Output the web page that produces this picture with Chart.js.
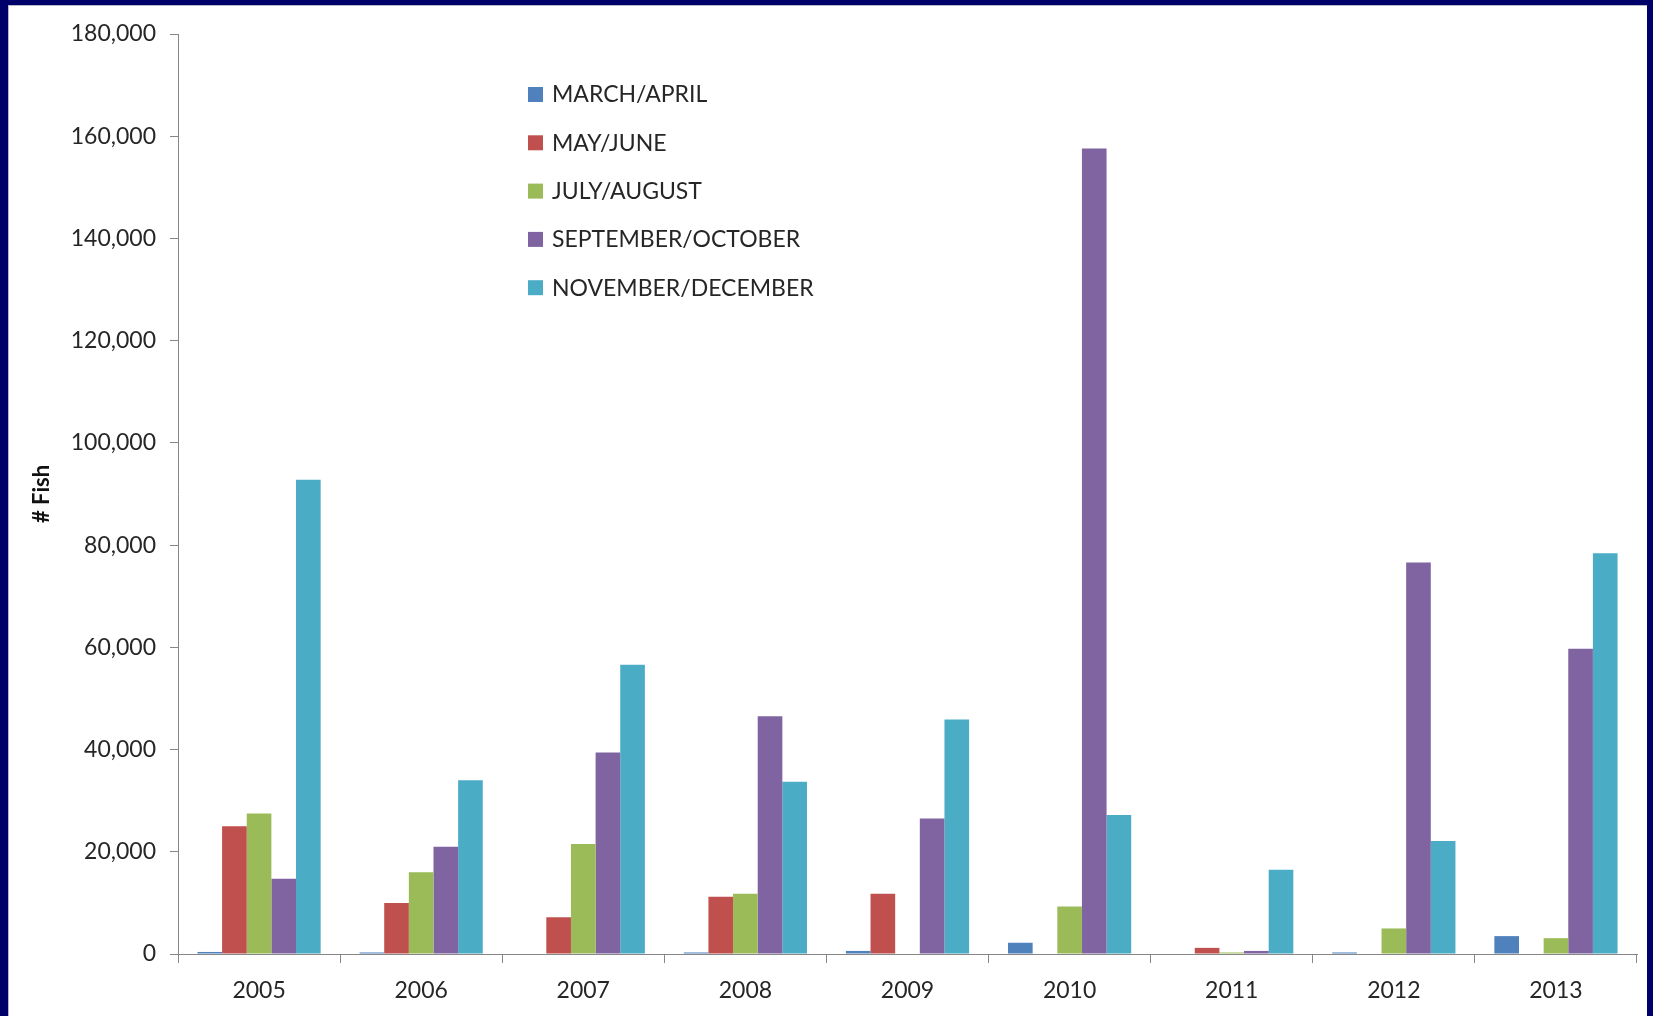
<!DOCTYPE html>
<html>
<head>
<meta charset="utf-8">
<title># Fish by period</title>
<script src="https://cdn.jsdelivr.net/npm/chart.js@4.4.1/dist/chart.umd.min.js"></script>
<style>
    html, body { margin: 0; padding: 0; }
    body { width: 1653px; height: 1016px; background: #00006b; overflow: hidden; position: relative; }
    #wrap {
        position: absolute; left: 8px; top: 5px; width: 1639px; height: 1011px;
        background: #fff; box-sizing: border-box; border-left: 1px solid #b8b8c8; border-top: 1px solid #b8b8c8;
    }
</style>
</head>
<body>
<div id="wrap"><canvas id="fishChart"></canvas></div>
<script>
const years = ['2005', '2006', '2007', '2008', '2009', '2010', '2011', '2012', '2013'];
const seriesNames = ['MARCH/APRIL', 'MAY/JUNE', 'JULY/AUGUST', 'SEPTEMBER/OCTOBER', 'NOVEMBER/DECEMBER'];
const seriesColors = ['#4f81bd', '#c0504d', '#9bbb59', '#8064a2', '#4bacc6'];

const marApr = [400, 300, 0, 300, 600, 2200, 0, 300, 3500];
const mayJun = [25000, 10000, 7200, 11200, 11800, 0, 1200, 0, 0];
const julAug = [27500, 16000, 21500, 11800, 0, 9300, 300, 5000, 3100];
const sepOct = [14700, 21000, 39400, 46500, 26500, 157600, 600, 76600, 59700];
const novDec = [92800, 34000, 56600, 33700, 45900, 27200, 16500, 22100, 78400];

const yTicks = [0, 20000, 40000, 60000, 80000, 100000, 120000, 140000, 160000, 180000];

const seriesValues = [marApr, mayJun, julAug, sepOct, novDec];
const fontFamily = 'Lato, "Open Sans", sans-serif';
const textColor = '#262626';
const axisColor = '#868686';

// legend stacked in the upper part of the plot, drawn on the canvas
const insideLegend = {
    id: 'insideLegend',
    afterDraw(chart) {
        const ctx = chart.ctx;
        ctx.save();
        ctx.font = '23px ' + fontFamily;
        ctx.textBaseline = 'middle';
        chart.data.datasets.forEach((ds, i) => {
            const y = 88 + i * 48.3;
            ctx.fillStyle = ds.backgroundColor;
            ctx.fillRect(519, y - 7, 15, 15);
            ctx.fillStyle = textColor;
            ctx.fillText(ds.label, 543, y + 1);
        });
        ctx.restore();
    }
};

const ctx = document.getElementById('fishChart');
new Chart(ctx, {
    type: 'bar',
    data: {
        labels: years,
        datasets: seriesNames.map((name, i) => ({
            label: name,
            data: seriesValues[i],
            backgroundColor: seriesColors[i],
            borderWidth: 0,
            categoryPercentage: 0.76,
            barPercentage: 1.0
        }))
    },
    options: {
        responsive: true,
        maintainAspectRatio: false,
        animation: false,
        layout: { padding: { top: 28, right: 10, left: 0, bottom: 0 } },
        plugins: {
            legend: { display: false },
            tooltip: { enabled: false }
        },
        scales: {
            x: {
                grid: {
                    display: true,
                    offset: true,
                    drawOnChartArea: false,
                    drawTicks: true,
                    tickLength: 9,
                    color: axisColor
                },
                border: { color: axisColor, width: 1 },
                ticks: {
                    color: textColor,
                    font: { family: fontFamily, size: 23 },
                    padding: 14,
                    maxRotation: 0
                },
                afterFit(scale) { scale.height = 62; }
            },
            y: {
                min: 0,
                max: 180000,
                afterBuildTicks(scale) { scale.ticks = yTicks.map(v => ({ value: v })); },
                grid: {
                    display: true,
                    drawOnChartArea: false,
                    drawTicks: true,
                    tickLength: 8,
                    color: axisColor
                },
                border: { color: axisColor, width: 1 },
                ticks: {
                    color: textColor,
                    font: { family: fontFamily, size: 23 },
                    padding: 14,
                    callback: v => v.toLocaleString('en-US')
                },
                title: {
                    display: true,
                    text: '# Fish',
                    color: '#111',
                    font: { family: fontFamily, size: 22, weight: 'bold' },
                    padding: { top: 20, bottom: 0 }
                },
                afterFit(scale) { scale.width = 169; }
            }
        }
    },
    plugins: [insideLegend]
});
</script>
</body>
</html>
